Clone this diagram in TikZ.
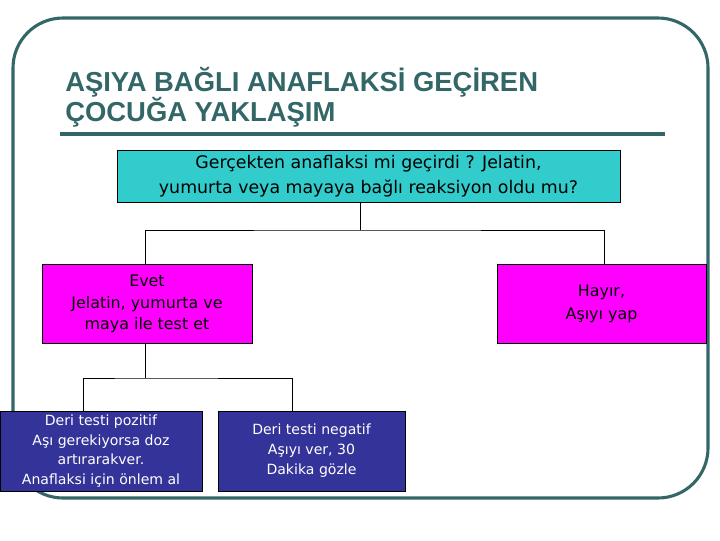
\documentclass[tikz,border=0pt]{standalone}
\usepackage{fontspec}
\setmainfont{DejaVu Sans}
\newfontfamily\titlefont{Liberation Sans}
\definecolor{frameteal}{HTML}{336666}
\definecolor{askcyan}{HTML}{33CCCC}
\definecolor{replymagenta}{HTML}{FF00FF}
\definecolor{testblue}{HTML}{333399}
\newlength{\pxu}
\setlength{\pxu}{0.025cm}

\begin{document}
\begin{tikzpicture}[x=0.025cm,y=-0.025cm,
  box/.style={draw=black,line width=0.6pt,align=center,inner sep=0pt},
  link/.style={draw=black,line width=0.6pt}]
\useasboundingbox (0,0) rectangle (720,540);

% Frame and title
\draw[frameteal,line width=2.2pt,rounded corners=50\pxu] (13,18) rectangle (708,498);
\node[anchor=north west,align=left,inner sep=0pt,text=frameteal,
  font=\titlefont\bfseries\fontsize{19.5}{21.5}\selectfont] (title) at (65,67)
  {AŞIYA BAĞLI ANAFLAKSİ GEÇİREN\\ÇOCUĞA YAKLAŞIM};
\draw[frameteal,line width=2.8pt] (60,134) -- (665,134);

% Boxes
\node[box,fill=askcyan,minimum width=503\pxu,minimum height=52\pxu,
  font=\fontsize{12.35}{17.5}\selectfont] (question) at (368.5,176)
  {Gerçekten anaflaksi mi geçirdi ? Jelatin,\\yumurta veya mayaya bağlı reaksiyon oldu mu?};
\node[box,fill=replymagenta,minimum width=210\pxu,minimum height=79\pxu,
  font=\fontsize{11.3}{15.2}\selectfont] (evet) at (147,304)
  {Evet\\Jelatin, yumurta ve\\maya ile test et};
\node[box,fill=replymagenta,minimum width=209\pxu,minimum height=79\pxu,
  font=\fontsize{11.3}{16.3}\selectfont] (hayir) at (601.5,303.5)
  {Hayır,\\Aşıyı yap};
\node[box,fill=testblue,text=white,minimum width=202\pxu,minimum height=80\pxu,
  font=\fontsize{10}{13.9}\selectfont] (pozitif) at (101,451)
  {Deri testi pozitif\\Aşı gerekiyorsa doz\\artırarakver.\\Anaflaksi için önlem al};
\node[box,fill=testblue,text=white,minimum width=187\pxu,minimum height=80\pxu,
  font=\fontsize{10}{14.2}\selectfont] (negatif) at (311.5,451)
  {Deri testi negatif\\Aşıyı ver, 30\\Dakika gözle};

% Connectors
\coordinate (fork1) at (360,230);
\coordinate (fork2) at (145,378);
\draw[link] ([xshift=-8.5\pxu]question.south) -- (fork1);
\draw[link] ([xshift=-2\pxu]evet.north) |- (fork1) -| ([xshift=2.5\pxu]hayir.north);
\draw[link] ([xshift=-2\pxu]evet.south) -- (fork2);
\draw[link] ([xshift=-18\pxu]pozitif.north) |- (fork2) -| ([xshift=-19.5\pxu]negatif.north);
\end{tikzpicture}
\end{document}
